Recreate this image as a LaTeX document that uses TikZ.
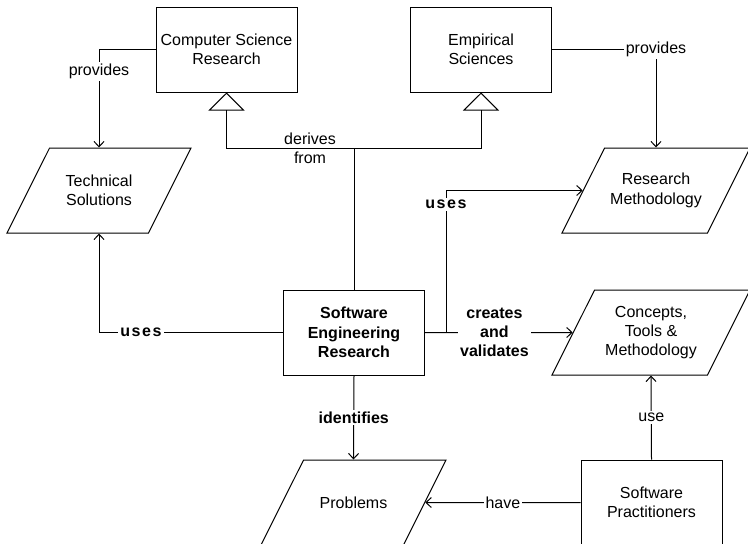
\documentclass[tikz,border=0pt]{standalone}
\usepackage{fontspec}
\setmainfont{Liberation Sans}
\newfontfamily\spacedbf[LetterSpace=10]{Liberation Sans}
\usetikzlibrary{shapes.geometric,arrows.meta}
\newcommand{\artxt}[1]{\parbox[c][61.75pt][c]{70pt}{\centering #1}}

\begin{document}
\begin{tikzpicture}[x=0.75pt, y=-0.75pt, line width=0.75pt,
		every node/.style={font=\fontsize{12}{14.5}\selectfont, align=center},
		entity/.style={draw, rectangle, minimum width=105.75pt, minimum height=63.75pt, inner sep=1pt},
		artifact/.style={draw, trapezium, trapezium left angle=63.4, trapezium right angle=116.6, trapezium stretches body=true, inner xsep=0pt, inner ysep=1pt},
		lbl/.style={fill=white, inner sep=1.5pt},
		link/.style={-{Straight Barb[length=4pt,width=7.5pt]}},
		inherit/.style={-{Triangle[open,length=13.5pt,width=27pt]}}]
				\useasboundingbox (0,0) rectangle (748,543);
				\node[entity] (CSR)at(226.5, 49.5) {Computer Science\\Research};
				\node[entity] (ES)at(481, 49.5) {Empirical\\Sciences};
				\node[entity, font=\fontsize{12}{14.5}\selectfont\bfseries] (SER)at(354, 332.5) {Software\\Engineering\\Research};
				\node[entity] (SP)at(651.5, 502.5) {Software\\Practitioners};
				\node[artifact, minimum width=138pt] (TS)at(99, 190.5) {\artxt{Technical\\Solutions}};
				\node[artifact, minimum width=141pt] (RM)at(656, 190.5) {\artxt{Research\\Methodology}};
				\node[artifact, minimum width=148.5pt] (CTM)at(651, 332.5) {\artxt{Concepts,\\Tools \&\\Methodology}};
				\node[artifact, minimum width=138.75pt] (PR)at(353.5, 502.5) {\artxt{Problems}};
				\coordinate (derive)at(354, 148);
				\coordinate (juse)at(446, 332.5);
				% derives from
				\draw (SER.north) -- (derive);
				\draw[inherit] (derive) -| (CSR.south);
				\draw[inherit] (derive) -| (ES.south);
				\node (lderive)at(310, 148) {derives\\from};
				% provides
				\draw[link] (CSR.west) -| node[lbl, pos=0.614] (lprovA) {provides} (TS.north);
				\draw[link] (ES.east) -| node[lbl, pos=0.5] (lprovB) {provides} (RM.north);
				% uses
				\draw[link] (SER.west) -| node[lbl, pos=0.386] (lusesA) {\spacedbf\bfseries uses} (TS.south);
				\draw[link] (SER.east) -- node[lbl, pos=0.47, font=\fontsize{12}{14.5}\selectfont\bfseries] (lcreate) {creates\\and\\validates} (CTM);
				\draw[link] (juse) |- node[lbl, pos=0.45] (lusesB) {\spacedbf\bfseries uses} (RM);
				\draw[link] (SER.south) -- node[lbl, font=\fontsize{12}{14.5}\selectfont\bfseries] (lident) {identifies} (PR.north);
				\draw[link] (SP.north) -- node[lbl] (luse) {use} (CTM.south);
				\draw[link] (SP.west) -- node[lbl] (lhave) {have} (PR);
			\end{tikzpicture}
\end{document}
